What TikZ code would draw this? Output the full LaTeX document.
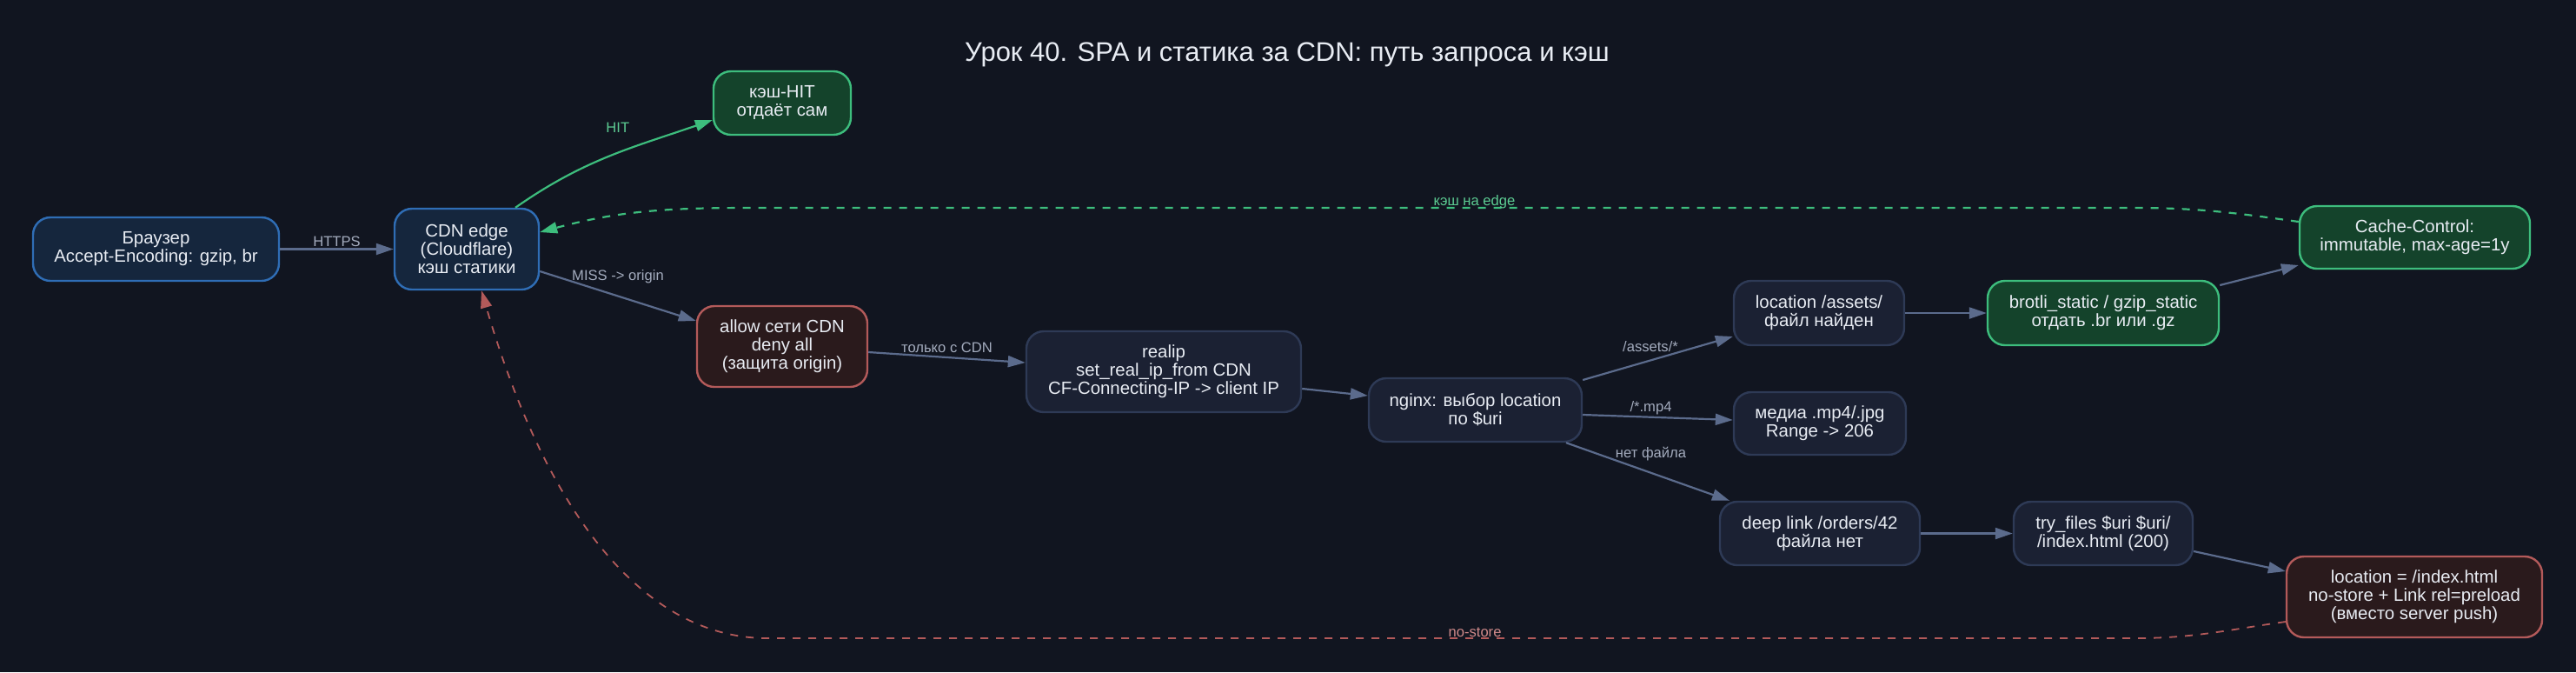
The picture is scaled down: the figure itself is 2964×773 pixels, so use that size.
\documentclass[tikz,border=0pt]{standalone}
\usepackage{fontspec}
\setmainfont{Liberation Sans}
\usetikzlibrary{arrows.meta}

\definecolor{bg}{HTML}{111520}
\definecolor{txt}{HTML}{E8ECF3}
\definecolor{lbltxt}{HTML}{A3ABBD}
\definecolor{linkcol}{HTML}{5B6B8C}
\definecolor{plainfill}{HTML}{1B2133}
\definecolor{plainline}{HTML}{2E3A56}
\definecolor{edgefill}{HTML}{15263D}
\definecolor{edgeline}{HTML}{2F6DB5}
\definecolor{okfill}{HTML}{14432B}
\definecolor{okline}{HTML}{3DBD7D}
\definecolor{oktxt}{HTML}{5CCB92}
\definecolor{badfill}{HTML}{2A1A1C}
\definecolor{badline}{HTML}{B35A5A}
\definecolor{badtxt}{HTML}{D08A8A}

\tikzset{
  box/.style={draw, rounded corners=10pt, align=center, text=txt,
    font=\fontsize{10.2}{10.5}\selectfont, line width=1.2pt, inner sep=0pt},
  plainbox/.style={box, fill=plainfill, draw=plainline},
  edgebox/.style={box, fill=edgefill, draw=edgeline},
  okbox/.style={box, fill=okfill, draw=okline},
  badbox/.style={box, fill=badfill, draw=badline},
  lbl/.style={font=\fontsize{8.3}{9}\selectfont, text=lbltxt, inner sep=0pt},
  linktip/.style={-{Triangle[length=10pt,width=6.5pt]}},
}

\begin{document}
\begin{tikzpicture}
[x=0.5pt,y=-0.5pt,line width=1.1pt]
   \useasboundingbox (0,0) rectangle (2964,773);
   \fill[bg] (0,0) rectangle (2964,773);

   \node (title) at (1481,63) [text=txt,font=\fontsize{15.5}{18}\selectfont]
      {Урок 40. SPA и статика за CDN: путь запроса и кэш};

   \node (browser) at (179.5,286.5) [edgebox,minimum width=141.5pt,minimum height=36.5pt] {Браузер\\Accept-Encoding: gzip, br};
   \node (cdn)     at (537,286.5)   [edgebox,minimum width=83pt,minimum height=46.5pt] {CDN edge\\(Cloudflare)\\кэш статики};
   \node (hit)     at (900,118.5)   [okbox,minimum width=79pt,minimum height=36.5pt] {кэш-HIT\\отдаёт сам};
   \node (allow)   at (900,398.5)   [badbox,minimum width=98pt,minimum height=46.5pt] {allow сети CDN\\deny all\\(защита origin)};
   \node (realip)  at (1339,427.5)  [plainbox,minimum width=158pt,minimum height=46.5pt] {realip\\set\_real\_ip\_from CDN\\CF-Connecting-IP -> client IP};
   \node (nginx)   at (1697.5,471.5) [plainbox,minimum width=122.5pt,minimum height=36.5pt] {nginx: выбор location\\по \$uri};
   \node (assets)  at (2093,360)    [plainbox,minimum width=98pt,minimum height=37pt] {location /assets/\\файл найден};
   \node (brotli)  at (2420,360)    [okbox,minimum width=133pt,minimum height=37pt] {brotli\_static / gzip\_static\\отдать .br или .gz};
   \node (cache)   at (2778.5,273)  [okbox,minimum width=132.5pt,minimum height=36pt] {Cache-Control:\\immutable, max-age=1y};
   \node (media)   at (2094,487)    [plainbox,minimum width=99pt,minimum height=36pt] {медиа .mp4/.jpg\\Range -> 206};
   \node (deep)    at (2094,613.5)  [plainbox,minimum width=115pt,minimum height=36.5pt] {deep link /orders/42\\файла нет};
   \node (try)     at (2420,613.5)  [plainbox,minimum width=103pt,minimum height=36.5pt] {try\_files \$uri \$uri/\\/index.html (200)};
   \node (index)   at (2778,686.5)  [badbox,minimum width=147pt,minimum height=46.5pt] {location = /index.html\\no-store + Link rel=preload\\(вместо server push)};

    \path[linkcol,every edge/.append style={linktip}]
    (browser) edge node[lbl,yshift=4.25pt] {HTTPS} (cdn)
    ([yshift=-12.75pt]cdn.east) edge node[lbl,yshift=11.25pt] {MISS -> origin} ([yshift=14.75pt]allow.west)
    ([yshift=-3.25pt]allow.east) edge node[lbl,yshift=5.5pt] {только с CDN} ([yshift=5.25pt]realip.west)
    ([yshift=-9.75pt]realip.east) edge ([yshift=8.25pt]nginx.west)
    ([yshift=17.25pt]nginx.east) edge node[lbl,xshift=-4.25pt,yshift=6.75pt] {/assets/*} ([yshift=-13.5pt]assets.west)
    ([yshift=-2.75pt]nginx.east) edge node[lbl,xshift=-4pt,yshift=5.25pt] {/*.mp4} ([yshift=2pt]media.west)
    ([xshift=52.25pt]nginx.south) edge node[lbl,xshift=1.75pt,yshift=10pt] {нет файла} ([xshift=-52pt]deep.north)
    (assets) edge (brotli)
    ([yshift=16pt]brotli.east) edge ([yshift=-16pt]cache.west)
    (deep) edge (try)
    ([yshift=-10.25pt]try.east) edge ([yshift=14.75pt]index.west)
    ;
    \path[okline,every edge/.append style={linktip}]
    ([xshift=28pt]cdn.north) edge[out=35,in=199] node[lbl,text=oktxt,xshift=4.5pt,yshift=16.5pt] {HIT} ([yshift=-9.75pt]hit.west);

   % cache back to the edge
   \coordinate (cacheR) at (2454,239);
   \coordinate (cacheL) at (866,239);
   \draw[okline,linktip,dash pattern=on 4.5pt off 4.5pt]
    ([yshift=9pt]cache.west) to[out=172,in=0] (cacheR)
    -- node[lbl,text=oktxt,pos=.477,yshift=3.5pt] {кэш на edge} (cacheL)
    to[out=180,in=15] ([yshift=9.75pt]cdn.east);

   % index.html back to the edge
   \coordinate (pushR) at (2456,734);
   \coordinate (pushL) at (883,734);
   \draw[badline,linktip,line width=0.9pt,dash pattern=on 4.5pt off 4.5pt]
    ([yshift=-14.25pt]index.west) to[out=188,in=0] (pushR)
    -- node[lbl,text=badtxt,pos=.4825,yshift=3.5pt] {no-store} (pushL)
    .. controls (733,734) and (624,575) .. ([xshift=8.5pt]cdn.south);
  \end{tikzpicture}
\end{document}
